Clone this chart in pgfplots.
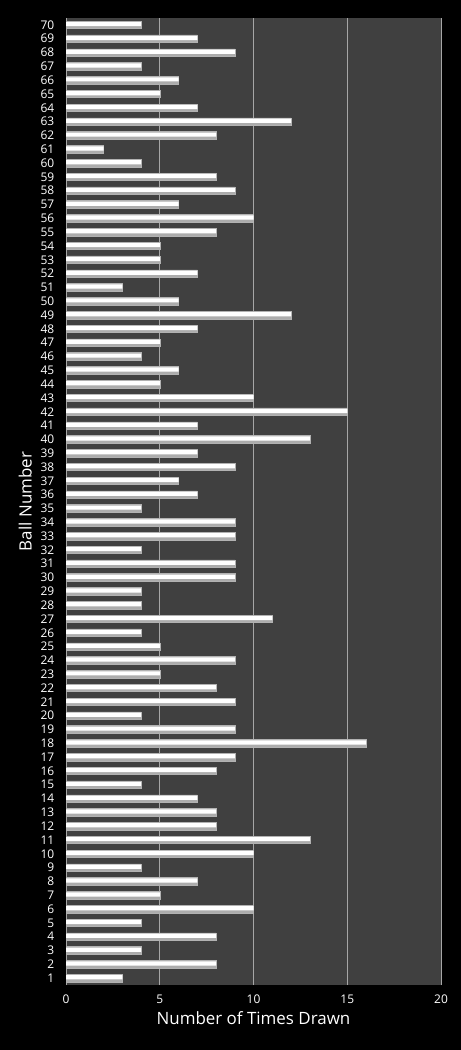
\documentclass[border=0pt]{standalone}
\usepackage{pgfplots}
\pgfplotsset{compat=1.18}
\usepackage{fontspec}
\setmainfont{Open Sans}
\definecolor{plotbg}{HTML}{404040}
\definecolor{gridc}{HTML}{A6A6A6}
\pgfplotstableread{
ball val
1 3
2 8
3 4
4 8
5 4
6 10
7 5
8 7
9 4
10 10
11 13
12 8
13 8
14 7
15 4
16 8
17 9
18 16
19 9
20 4
21 9
22 8
23 5
24 9
25 5
26 4
27 11
28 4
29 4
30 9
31 9
32 4
33 9
34 9
35 4
36 7
37 6
38 9
39 7
40 13
41 7
42 15
43 10
44 5
45 6
46 4
47 5
48 7
49 12
50 6
51 3
52 7
53 5
54 5
55 8
56 10
57 6
58 9
59 8
60 4
61 2
62 8
63 12
64 7
65 5
66 6
67 4
68 9
69 7
70 4
}\balls
\begin{document}
\begin{tikzpicture}
\fill[black] (0,0) rectangle (461bp,1050bp);
\begin{axis}[
  at={(66bp,65bp)}, anchor=south west,
  scale only axis, width=375bp, height=967bp,
  xmin=0, xmax=20, ymin=0.5, ymax=70.5,
  xbar,
  axis background/.style={fill=plotbg},
  axis line style={draw=none},
  xtick={0,5,10,15,20}, ytick={1,...,70},
  xmajorgrids, major grid style={gridc, line width=0.6pt},
  tick style={draw=none},
  /pgf/number format/assume math mode=true,
  ticklabel style={font=\fontsize{12}{14}\selectfont, text=white},
  yticklabel style={xshift=-4bp},
  xticklabel style={yshift=-6bp},
  xlabel={Number of Times Drawn},
  ylabel={Ball Number},
  label style={font=\fontsize{17}{20}\selectfont, text=white},
  xlabel style={yshift=-1bp},
  ylabel style={yshift=2bp},
]
\draw[gridc, line width=0.6pt] (axis cs:0,0.5) -- (axis cs:20,0.5) -- (axis cs:20,70.5);
\addplot[bar width=7.5bp, bar shift=0pt, draw=gray!60, line width=0.5pt, fill=gray!65] table[x=val, y=ball] {\balls};
\addplot[bar width=4.2bp, bar shift=0.8bp, draw=none, fill=white] table[x=val, y=ball] {\balls};
\end{axis}
\end{tikzpicture}
\end{document}
